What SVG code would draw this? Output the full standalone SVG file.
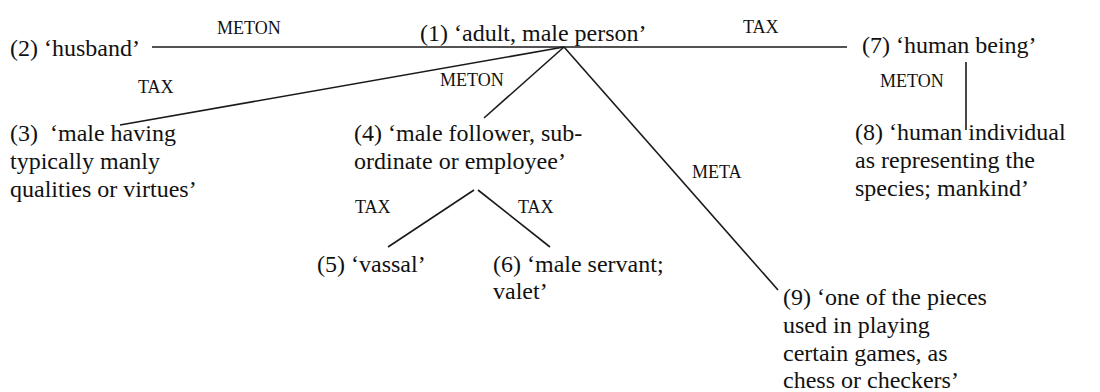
<svg xmlns="http://www.w3.org/2000/svg" width="1100" height="392" viewBox="0 0 1100 392">
<style>
.n{font-family:"Liberation Serif","Times New Roman",serif;font-size:24px;fill:#111}
.l{font-family:"Liberation Serif","Times New Roman",serif;font-size:18px;fill:#111}
.c{stroke:#1a1a1a;stroke-width:1.6;fill:none}
</style>
<rect width="1100" height="392" fill="#fff"/>
<g id="connectors">
<line class="c" x1="152" y1="47" x2="847" y2="47"/>
<line class="c" x1="564" y1="47" x2="120" y2="125"/>
<line class="c" x1="564" y1="47" x2="484" y2="118"/>
<line class="c" x1="564" y1="47" x2="778" y2="290"/>
<line class="c" x1="966" y1="62" x2="966" y2="130"/>
<line class="c" x1="474" y1="190" x2="388" y2="247"/>
<line class="c" x1="478" y1="190" x2="550" y2="247"/>
<text class="l" x="217" y="34">METON</text>
<text class="l" x="743" y="33">TAX</text>
<text class="l" x="138" y="93">TAX</text>
<text class="l" x="440" y="86">METON</text>
<text class="l" x="880" y="87">METON</text>
<text class="l" x="692" y="178">META</text>
<text class="l" x="355" y="213">TAX</text>
<text class="l" x="518" y="213">TAX</text>
</g>
<g id="n1"><text class="n" x="420" y="41">(1) ‘adult, male person’</text></g>
<g id="n2"><text class="n" x="10" y="56">(2) ‘husband’</text></g>
<g id="n3"><text class="n" x="10" y="141" xml:space="preserve">(3)  ‘male having</text><text class="n" x="10" y="169">typically manly</text><text class="n" x="10" y="197">qualities or virtues’</text></g>
<g id="n4"><text class="n" x="354" y="141">(4) ‘male follower, sub-</text><text class="n" x="354" y="169">ordinate or employee’</text></g>
<g id="n5"><text class="n" x="317" y="272">(5) ‘vassal’</text></g>
<g id="n6"><text class="n" x="493" y="272">(6) ‘male servant;</text><text class="n" x="493" y="299">valet’</text></g>
<g id="n7"><text class="n" x="862" y="53">(7) ‘human being’</text></g>
<g id="n8"><text class="n" x="855" y="140">(8) ‘human individual</text><text class="n" x="855" y="168">as representing the</text><text class="n" x="855" y="196">species; mankind’</text></g>
<g id="n9"><text class="n" x="783" y="305">(9) ‘one of the pieces</text><text class="n" x="783" y="333">used in playing</text><text class="n" x="783" y="361">certain games, as</text><text class="n" x="783" y="388">chess or checkers’</text></g>
</svg>
